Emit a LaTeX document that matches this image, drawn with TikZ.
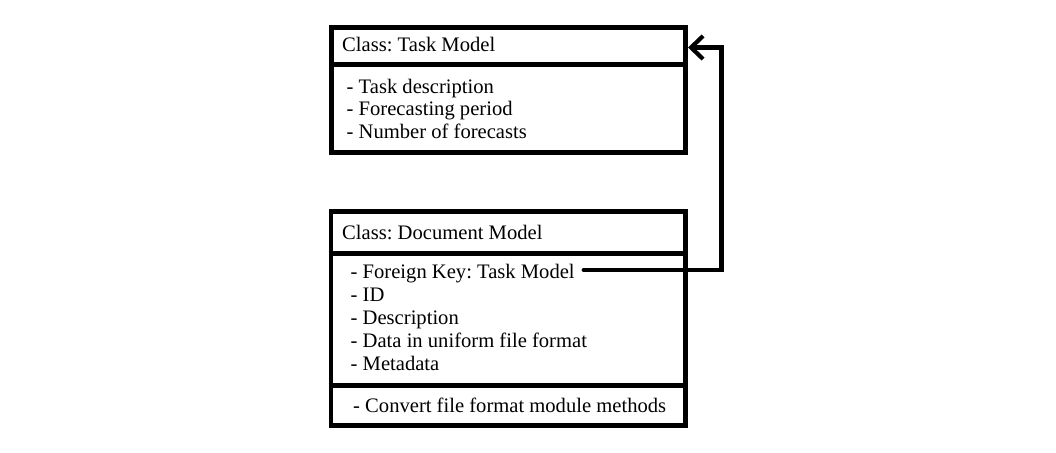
\documentclass[tikz,border=0pt]{standalone}
\usepackage{fontspec}
\setmainfont{Liberation Serif}
\frenchspacing
\usetikzlibrary{arrows.meta}
\begin{document}
\begin{tikzpicture}[x=1pt,y=-1pt,
  box/.style={draw=black, line width=4.8pt, inner sep=0pt, fill=white},
  sep/.style={draw=black, line width=4.8pt},
  txt/.style={anchor=base west, inner sep=0pt, font=\fontsize{20.6pt}{24pt}\selectfont},
  link/.style={draw=black, line width=4.8pt, line cap=round, line join=miter,
    -{Straight Barb[length=12pt,width=23pt,line width=4.2pt]}}]
\useasboundingbox[fill=white] (0,0) rectangle (1056,452);
% Task Model box
\node[box, minimum width=354pt, minimum height=125pt] (tm) at (508.5,90) {};
\draw[sep] (tm.west |- 0,64.5) -- (tm.east |- 0,64.5);
\node[txt] (tmt) at (342,52) {Class: Task Model};
\node[txt] (tm1) at (346.5,93) {- Task description};
\node[txt] (tm2) at (346.5,115.5) {- Forecasting period};
\node[txt] (tm3) at (346.5,138) {- Number of forecasts};
% Document Model box
\node[box, minimum width=354.5pt, minimum height=214pt] (dm) at (508.25,318.5) {};
\draw[sep] (dm.west |- 0,253.5) -- (dm.east |- 0,253.5);
\draw[sep] (dm.west |- 0,385.5) -- (dm.east |- 0,385.5);
\node[txt] (dmt) at (342,239) {Class: Document Model};
\node[txt] (fk) at (350.5,278) {- Foreign Key: Task Model};
\node[txt] (dm2) at (350.5,301) {- ID};
\node[txt] (dm3) at (350.5,324) {- Description};
\node[txt] (dm4) at (350.5,347) {- Data in uniform file format};
\node[txt] (dm5) at (350.5,370) {- Metadata};
\node[txt] (dm6) at (353,412) {- Convert file format module methods};
% connector
\coordinate (fkend) at (584,270);
\coordinate (turn) at (721.5,270);
\coordinate (tip) at (688,47.5);
\draw[link] (fkend) -- (turn) |- (tip);
\end{tikzpicture}
\end{document}
